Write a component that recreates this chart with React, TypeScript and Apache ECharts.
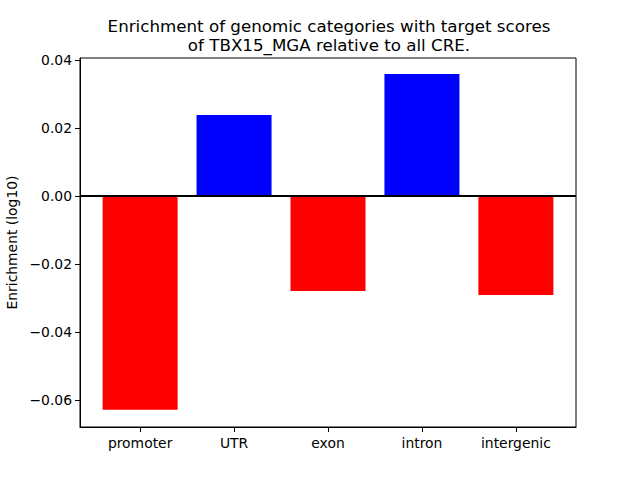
import React, { useEffect, useRef } from "react";
import * as echarts from "echarts";

const categories = ["promoter", "UTR", "exon", "intron", "intergenic"];
const values = [-0.0629, 0.0238, -0.0279, 0.0359, -0.0291];
const yTicks = [-0.06, -0.04, -0.02, 0.0, 0.02, 0.04];
const titleLines = [
  "Enrichment of genomic categories with target scores",
  "of TBX15_MGA relative to all CRE.",
];
const yAxisTitle = "Enrichment (log10)";

const FONT = "DejaVu Sans";

export default function App() {
  const ref = useRef<HTMLDivElement>(null);
  useEffect(() => {
    const chart = echarts.init(ref.current!, null, { renderer: "svg" });
    const fmt = (v: number) => {
      const s = Math.abs(v).toFixed(2);
      return v < -1e-9 ? "\u2212" + s : s;
    };
    chart.setOption({
      animation: false,
      backgroundColor: "#ffffff",
      title: {
        text: titleLines.join("\n"),
        left: 324,
        textAlign: "center",
        top: 11,
        textStyle: {
          fontFamily: FONT,
          fontSize: 16.7,
          fontWeight: "normal",
          color: "#000",
          lineHeight: 19,
        },
      },
      grid: {
        left: 80, right: 64, top: 58, bottom: 53,
        containLabel: false,
        outerBoundsMode: "none",
        show: true, borderColor: "#000", borderWidth: 1, backgroundColor: "transparent",
      },
      xAxis: {
        type: "value",
        min: -0.64,
        max: 4.64,
        splitLine: { show: false },
        axisLine: { show: true, onZero: false, lineStyle: { color: "#000", width: 1 } },
        axisTick: { show: true, length: 5, customValues: [0, 1, 2, 3, 4], lineStyle: { color: "#000" } },
        axisLabel: {
          customValues: [0, 1, 2, 3, 4],
          formatter: (v: number) => categories[Math.round(v)] ?? "",
          fontFamily: FONT,
          fontSize: 13.9,
          color: "#000",
          margin: 9,
        },
      },
      yAxis: {
        type: "value",
        min: -0.06794,
        max: 0.0406,
        splitLine: { show: false },
        axisLine: { show: true, onZero: false, lineStyle: { color: "#000", width: 1 } },
        axisTick: { show: true, length: 5, customValues: yTicks, lineStyle: { color: "#000" } },
        axisLabel: {
          customValues: yTicks,
          formatter: fmt,
          fontFamily: FONT,
          fontSize: 13.9,
          color: "#000",
          margin: 8,
        },
        name: yAxisTitle,
        nameLocation: "middle",
        nameGap: 57,
        nameRotate: 90,
        nameTextStyle: { fontFamily: FONT, fontSize: 13.9, color: "#000" },
      },
      series: [
        {
          type: "bar",
          barWidth: 75,
          data: values.map((v, i) => ({
            value: [i, v],
            itemStyle: { color: v >= 0 ? "#0000ff" : "#ff0000" },
          })),
          markLine: {
            silent: true,
            symbol: "none",
            label: { show: false },
            lineStyle: { color: "#000", width: 2, type: "solid" },
            data: [{ yAxis: 0 }],
          },
        },
      ],
    });
    return () => chart.dispose();
  }, []);
  return <div ref={ref} style={{ width: 640, height: 480, position: "absolute", left: 0, top: 0 }} />;
}
